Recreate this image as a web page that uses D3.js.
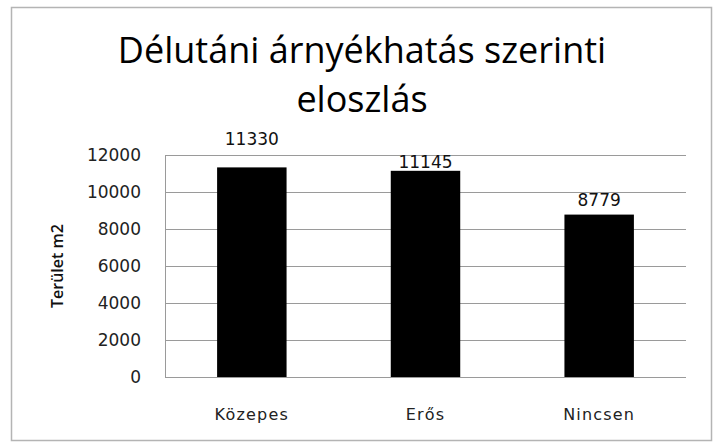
<!DOCTYPE html>
<html>
<head>
<meta charset="utf-8">
<script src="https://cdn.jsdelivr.net/npm/d3@7"></script>
<style>
  body { margin: 0; background: #fff; }
  svg { display: block; }
</style>
</head>
<body>
<svg id="chart"></svg>
<script>
var width = 718;
var height = 447;

// chart data
var categories = ["Közepes", "Erős", "Nincsen"];
var values = [11330, 11145, 8779];
var yTicks = [0, 2000, 4000, 6000, 8000, 10000, 12000];
var titleLines = ["Délutáni árnyékhatás szerinti", "eloszlás"];
var yTitle = "Terület m2";

var margin = {top: 155, right: 32, bottom: 70, left: 165};

var svg = d3.select("#chart")
    .attr("width", width)
    .attr("height", height);

// outer frame
svg.append("rect")
    .attr("x", 11.5).attr("y", 7.5)
    .attr("width", 700).attr("height", 433)
    .attr("fill", "#fff")
    .attr("stroke", "#b4b4b4")
    .attr("stroke-width", 1.5);

var x = d3.scaleBand()
    .domain(categories)
    .range([margin.left, width - margin.right])
    .paddingInner(0.6)
    .paddingOuter(0.3);

var y = d3.scaleLinear()
    .domain([0, 12000])
    .range([height - margin.bottom, margin.top]);

// gridlines
svg.append("g")
    .selectAll("line")
    .data(yTicks)
    .enter().append("line")
    .attr("x1", margin.left)
    .attr("x2", width - margin.right)
    .attr("y1", function(d) { return Math.round(y(d)) + 0.5; })
    .attr("y2", function(d) { return Math.round(y(d)) + 0.5; })
    .attr("stroke", "#9a9a9a")
    .attr("stroke-width", 1);

// left axis line
svg.append("line")
    .attr("x1", margin.left + 0.5).attr("x2", margin.left + 0.5)
    .attr("y1", y(12000)).attr("y2", y(0))
    .attr("stroke", "#9a9a9a");

// tick labels
svg.append("g")
    .selectAll("text")
    .data(yTicks)
    .enter().append("text")
    .attr("x", 141)
    .attr("y", function(d) { return y(d) + 6; })
    .attr("text-anchor", "end")
    .attr("font-family", "DejaVu Sans")
    .attr("font-size", 17)
    .attr("fill", "#222")
    .text(function(d) { return d; });

// bars
svg.append("g")
    .selectAll("rect")
    .data(values)
    .enter().append("rect")
    .attr("x", function(d, i) { return x(categories[i]); })
    .attr("y", function(d) { return y(d); })
    .attr("width", x.bandwidth())
    .attr("height", function(d) { return y(0) - y(d); })
    .attr("fill", "#000");

// value labels (excel placed them unevenly above the bars)
var labelGap = [22, 3, 9];
svg.append("g")
    .selectAll("text")
    .data(values)
    .enter().append("text")
    .attr("x", function(d, i) { return x(categories[i]) + x.bandwidth() / 2; })
    .attr("y", function(d, i) { return y(d) - labelGap[i]; })
    .attr("text-anchor", "middle")
    .attr("font-family", "DejaVu Sans")
    .attr("font-size", 17)
    .attr("fill", "#111")
    .text(function(d) { return d; });

// category labels
svg.append("g")
    .selectAll("text")
    .data(categories)
    .enter().append("text")
    .attr("x", function(d) { return x(d) + x.bandwidth() / 2; })
    .attr("y", 420)
    .attr("text-anchor", "middle")
    .attr("font-family", "DejaVu Sans")
    .attr("font-size", 16)
    .attr("letter-spacing", 1.2)
    .attr("fill", "#222")
    .text(function(d) { return d; });

// title
svg.append("g")
    .selectAll("text")
    .data(titleLines)
    .enter().append("text")
    .attr("x", 362)
    .attr("y", function(d, i) { return 63 + i * 49; })
    .attr("text-anchor", "middle")
    .attr("font-family", "Open Sans")
    .attr("font-size", 36)
    .attr("fill", "#000")
    .text(function(d) { return d; });

// y axis title
svg.append("text")
    .attr("transform", "translate(63,266) rotate(-90)")
    .attr("text-anchor", "middle")
    .attr("font-family", "Open Sans")
    .attr("font-weight", 600)
    .attr("font-size", 16)
    .attr("fill", "#111")
    .text(yTitle);
</script>
</body>
</html>
